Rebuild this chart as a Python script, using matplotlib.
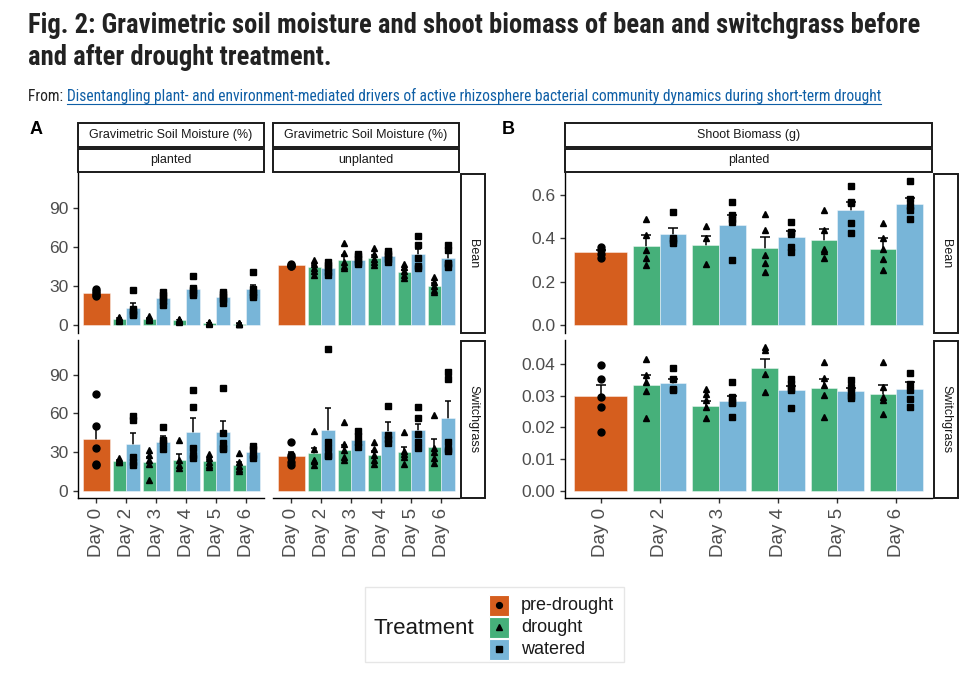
import matplotlib
matplotlib.use("Agg")
import matplotlib.pyplot as plt
from matplotlib import font_manager
from matplotlib.patches import Rectangle
from matplotlib.lines import Line2D
import numpy as np

# ---------------- data ----------------
days = ["Day 0", "Day 2", "Day 3", "Day 4", "Day 5", "Day 6"]
treatments = ["pre-drought", "drought", "watered"]
# order of groups: pre(Day0), D2 drought, D2 watered, D3 drought, D3 watered, ... D6 watered

# A: gravimetric soil moisture (%) - planted, bean
gsm_planted_bean_mean = [24.6, 4.7, 13.5, 5.2, 20.7, 3.9, 28.3, 1.8, 21.8, 1.3, 27.7]
gsm_planted_bean_se = [1.3, 0.7, 3.4, 0.6, 2.3, 0.5, 2.2, 0.3, 2.2, 0.2, 3.4]
gsm_planted_bean_pts = [[28, 26.5, 25, 23.5, 22.5], [6.5, 5.5, 4.5, 4, 3.5], [27, 13, 11, 9, 8],
                        [7, 6, 5, 4.5, 4], [25.5, 23.5, 21, 18.5, 16], [5, 4.5, 4, 3.5, 3],
                        [38, 29, 27, 25, 23], [2.5, 2, 1.8, 1.5, 1.2], [25.5, 24, 22, 20, 17],
                        [2, 1.5, 1.2, 1, 0.9], [41, 28, 26, 23, 22]]
# A: unplanted, bean
gsm_unplanted_bean_mean = [46.2, 44.6, 43.8, 50.6, 50.6, 51.9, 53.2, 40.7, 54.5, 30.6, 51.9]
gsm_unplanted_bean_se = [0.6, 2.0, 2.2, 3.5, 1.8, 2.3, 1.5, 2.0, 4.5, 2.0, 3.5]
gsm_unplanted_bean_pts = [[47, 46.5, 46, 45.5], [50.5, 47, 44, 41.5, 38.5], [49, 46.5, 44, 41, 38.5],
                          [63.5, 55.5, 48.5, 46, 44], [55, 53, 51, 49, 47], [59.5, 54.5, 51, 48.5, 46.5],
                          [57.5, 55, 53, 51, 49], [47, 44.5, 42, 39, 36.5], [68.5, 62, 52, 46, 44],
                          [37.5, 33, 30, 27.5, 26], [62, 58, 48, 47, 45]]
# A: planted, switchgrass
gsm_planted_switch_mean = [39.9, 23.1, 36.0, 21.9, 38.0, 23.4, 45.8, 22.6, 45.3, 20.0, 29.6]
gsm_planted_switch_se = [10.5, 0.8, 8.5, 4.0, 4.0, 5.2, 10.8, 1.8, 9.0, 2.5, 2.5]
gsm_planted_switch_pts = [[75, 50, 33, 20, 21], [25, 24, 23, 22.5, 22], [58, 55, 26, 22, 20],
                          [31.5, 28, 24, 21, 8.5], [49.5, 39, 37, 32], [39, 24, 20, 17.5],
                          [78, 65, 33, 28, 25], [28.5, 25, 22, 20, 18], [79.5, 45, 37, 33, 32],
                          [29, 22.5, 19, 16.5, 15], [35, 32, 28, 25]]
# A: unplanted, switchgrass
gsm_unplanted_switch_mean = [26.5, 29.0, 47.0, 31.6, 39.0, 27.8, 46.5, 30.3, 47.0, 33.7, 56.0]
gsm_unplanted_switch_se = [3.5, 4.0, 16.8, 4.0, 2.5, 3.0, 7.0, 3.5, 5.0, 6.3, 13.4]
gsm_unplanted_switch_pts = [[37.5, 28, 26, 22, 20], [46, 32, 24, 23, 20], [110, 38, 33, 28, 26.5],
                            [53.5, 36.5, 31.5, 26, 24], [46, 42, 38, 34], [38, 32, 28, 24, 21],
                            [66, 43.5, 40, 37], [45.5, 31, 28.5, 26, 21], [65, 56, 44, 38, 33],
                            [58.5, 33, 30, 25, 21.5], [92, 87, 38, 32, 31]]
# B: shoot biomass (g), bean
bio_bean_mean = [0.335, 0.363, 0.420, 0.369, 0.4615, 0.357, 0.408, 0.394, 0.531, 0.352, 0.557]
bio_bean_se = [0.011, 0.050, 0.026, 0.043, 0.045, 0.051, 0.025, 0.047, 0.035, 0.048, 0.028]
bio_bean_pts = [[0.358, 0.346, 0.33, 0.308], [0.49, 0.415, 0.345, 0.31, 0.277], [0.52, 0.40, 0.39, 0.377],
                [0.457, 0.40, 0.28], [0.565, 0.507, 0.49, 0.475, 0.30], [0.51, 0.44, 0.323, 0.285, 0.246],
                [0.474, 0.43, 0.42, 0.36, 0.338], [0.528, 0.44, 0.35, 0.34, 0.31], [0.64, 0.566, 0.56, 0.47, 0.426],
                [0.47, 0.40, 0.35, 0.303, 0.254], [0.665, 0.58, 0.55, 0.531, 0.49]]
# B: shoot biomass (g), switchgrass
bio_switch_mean = [0.0298, 0.0332, 0.0340, 0.0266, 0.0283, 0.0386, 0.0316, 0.0324, 0.0314, 0.0306, 0.0320]
bio_switch_se = [0.0036, 0.0033, 0.0013, 0.0018, 0.0017, 0.0028, 0.0015, 0.0028, 0.0010, 0.0028, 0.0022]
bio_switch_pts = [[0.0395, 0.0353, 0.0296, 0.0264, 0.0186], [0.0416, 0.0366, 0.0343, 0.0313, 0.0228],
                  [0.0386, 0.0353, 0.0322, 0.0316], [0.032, 0.0305, 0.0286, 0.0264, 0.023],
                  [0.0343, 0.0296, 0.028, 0.0275, 0.0233], [0.0452, 0.0442, 0.0369, 0.0311],
                  [0.0353, 0.0337, 0.0325, 0.0316, 0.0261], [0.0405, 0.0355, 0.0332, 0.0301, 0.0231],
                  [0.0348, 0.0328, 0.0312, 0.0300, 0.0292], [0.0405, 0.0327, 0.0296, 0.0285, 0.0243],
                  [0.0372, 0.0335, 0.0316, 0.029, 0.0264]]

# ---------------- style ----------------
W, H = 971, 674
colors = {"pre-drought": "#D55E1E", "drought": "#46B07A", "watered": "#78B5D8"}
markers = {"pre-drought": "o", "drought": "^", "watered": "s"}

names = {f.name for f in font_manager.fontManager.ttflist}
SANS = "Liberation Sans" if "Liberation Sans" in names else "DejaVu Sans"
TITLE_FONT = SANS
for cand in ["Liberation Sans Narrow", "Roboto Condensed", "Open Sans Condensed",
             "DejaVu Sans Condensed", "Noto Sans Condensed", "Lato"]:
    if cand in names:
        TITLE_FONT = cand
        break
plt.rcParams["font.family"] = [SANS, "DejaVu Sans"]

fig = plt.figure(figsize=(W / 100, H / 100), dpi=100)
fig.patch.set_facecolor("white")


def fx(x):
    return x / W


def fy(y):
    return 1 - y / H


def add_ax(x0, y0, x1, y1):
    return fig.add_axes([fx(x0), fy(y1), fx(x1) - fx(x0), fy(y0) - fy(y1)])


def groups():
    """yield (x position, treatment, width) for the 11 groups"""
    out = [(1, "pre-drought", 0.9)]
    for i in range(1, len(days)):
        out.append((i + 1 - 0.225, "drought", 0.45))
        out.append((i + 1 + 0.225, "watered", 0.45))
    return out


def draw_panel(ax, means, ses, pts, ylim, yticks, fmt, left_axis, bottom_axis, cap):
    for (x, tr, w), m, s, p in zip(groups(), means, ses, pts):
        ax.errorbar([x], [m], yerr=[[s], [s]], fmt="none", ecolor="black", elinewidth=1.1,
                    capsize=cap, capthick=1.1, zorder=1)
        ax.bar(x, m, width=w, color=colors[tr], edgecolor=(1, 1, 1, 0.5), linewidth=0.6, zorder=2)
        ax.plot([x] * len(p), p, linestyle="none", marker=markers[tr], color="black",
                markersize=5.0, zorder=3)
    ax.set_xlim(0.4, len(days) + 0.6)
    ax.set_ylim(*ylim)
    for sp in ["top", "right"]:
        ax.spines[sp].set_visible(False)
    ax.spines["left"].set_visible(left_axis)
    ax.spines["bottom"].set_visible(bottom_axis)
    for sp in ["left", "bottom"]:
        ax.spines[sp].set_linewidth(1.0)
        ax.spines[sp].set_color("black")
    ax.set_facecolor("white")
    ax.tick_params(colors="#333333", labelcolor="#4D4D4D", length=3.5, width=1.0)
    if left_axis:
        ax.set_yticks(yticks)
        ax.set_yticklabels([fmt.format(t) for t in yticks], fontsize=12.5)
    else:
        ax.set_yticks([])
    if bottom_axis:
        ax.set_xticks(range(1, len(days) + 1))
        ax.set_xticklabels(days, rotation=90, fontsize=13.5)
    else:
        ax.set_xticks([])


def strip(x0, y0, x1, y1, text, size=9.0, rot=0):
    fig.add_artist(Rectangle((fx(x0), fy(y1)), fx(x1) - fx(x0), fy(y0) - fy(y1),
                             transform=fig.transFigure, facecolor="white",
                             edgecolor="#1A1A1A", linewidth=1.4))
    fig.text(fx((x0 + x1) / 2), fy((y0 + y1) / 2), text, ha="center", va="center",
             fontsize=size, color="#1A1A1A", rotation=rot)


# rows
ROW1 = (173, 333)
ROW2 = (340, 498)
A_L = (78, 264)
A_R = (273, 459)
B_X = (565, 932)

ylimA = (-5.8, 117)
ticksA = [0, 30, 60, 90]

ax = add_ax(A_L[0], ROW1[0], A_L[1], ROW1[1])
draw_panel(ax, gsm_planted_bean_mean, gsm_planted_bean_se, gsm_planted_bean_pts, ylimA, ticksA, "{:.0f}", True, False, 2.5)
ax = add_ax(A_R[0], ROW1[0], A_R[1], ROW1[1])
draw_panel(ax, gsm_unplanted_bean_mean, gsm_unplanted_bean_se, gsm_unplanted_bean_pts, ylimA, ticksA, "{:.0f}", False, False, 2.5)
ax = add_ax(A_L[0], ROW2[0], A_L[1], ROW2[1])
draw_panel(ax, gsm_planted_switch_mean, gsm_planted_switch_se, gsm_planted_switch_pts, ylimA, ticksA, "{:.0f}", True, True, 2.5)
ax = add_ax(A_R[0], ROW2[0], A_R[1], ROW2[1])
draw_panel(ax, gsm_unplanted_switch_mean, gsm_unplanted_switch_se, gsm_unplanted_switch_pts, ylimA, ticksA, "{:.0f}", False, True, 2.5)

ax = add_ax(B_X[0], ROW1[0], B_X[1], ROW1[1])
draw_panel(ax, bio_bean_mean, bio_bean_se, bio_bean_pts, (-0.035, 0.70), [0.0, 0.2, 0.4, 0.6], "{:.1f}", True, False, 3.5)
ax = add_ax(B_X[0], ROW2[0], B_X[1], ROW2[1])
draw_panel(ax, bio_switch_mean, bio_switch_se, bio_switch_pts, (-0.0023, 0.0475),
           [0.0, 0.01, 0.02, 0.03, 0.04], "{:.2f}", True, True, 3.5)

# strips
strip(A_L[0], 123, A_L[1], 147, "Gravimetric Soil Moisture (%)")
strip(A_L[0], 149, A_L[1], 172, "planted")
strip(A_R[0], 123, A_R[1], 147, "Gravimetric Soil Moisture (%)")
strip(A_R[0], 149, A_R[1], 172, "unplanted")
strip(461, ROW1[0] + 1, 485, ROW1[1], "Bean", rot=-90)
strip(461, ROW2[0] + 1, 485, ROW2[1], "Switchgrass", rot=-90)
strip(B_X[0], 123, B_X[1], 147, "Shoot Biomass (g)")
strip(B_X[0], 149, B_X[1], 172, "planted")
strip(934, ROW1[0] + 1, 958, ROW1[1], "Bean", rot=-90)
strip(934, ROW2[0] + 1, 958, ROW2[1], "Switchgrass", rot=-90)

# panel letters
fig.text(fx(30), fy(130), "A", fontsize=13, fontweight="bold", va="center", ha="left")
fig.text(fx(502), fy(130), "B", fontsize=13, fontweight="bold", va="center", ha="left")

# legend
fig.add_artist(Rectangle((fx(365), fy(662)), fx(624) - fx(365), fy(587) - fy(662),
                         transform=fig.transFigure, facecolor="none", edgecolor="#E6E6E6", linewidth=1))
fig.text(fx(373), fy(628), "Treatment", fontsize=16, va="center", ha="left", color="#1A1A1A")
for i, tr in enumerate(treatments):
    yc = 605 + i * 22
    fig.add_artist(Rectangle((fx(489), fy(yc + 10.5)), fx(509) - fx(489), fy(yc - 10.5) - fy(yc + 10.5),
                             transform=fig.transFigure, facecolor=colors[tr], edgecolor="white", linewidth=0.8))
    fig.add_artist(Line2D([fx(499)], [fy(yc)], transform=fig.transFigure, marker=markers[tr],
                          color="black", markersize=4.2, linestyle="none"))
    fig.text(fx(521), fy(yc), tr, fontsize=13, va="center", ha="left", color="#1A1A1A")

# title
title1 = "Fig. 2: Gravimetric soil moisture and shoot biomass of bean and switchgrass before"
title2 = "and after drought treatment."
t1 = fig.text(fx(28), fy(33), title1, fontsize=17.5, fontweight="bold", family=[TITLE_FONT, "DejaVu Sans"],
              ha="left", va="baseline", color="#222222")
renderer = fig.canvas.get_renderer()
wpx = t1.get_window_extent(renderer).width
tsize = 17.5 * min(1.25, 892 / wpx)
t1.set_fontsize(tsize)
fig.text(fx(28), fy(65), title2, fontsize=tsize, fontweight="bold", family=[TITLE_FONT, "DejaVu Sans"],
         ha="left", va="baseline", color="#222222")

f1 = fig.text(fx(28), fy(101), "From: ", fontsize=9.5, family=[TITLE_FONT, "DejaVu Sans"],
              ha="left", va="baseline", color="#222222")
bb = f1.get_window_extent(renderer)
link = "Disentangling plant- and environment-mediated drivers of active rhizosphere bacterial community dynamics during short-term drought"
lt = fig.text(bb.x1 / W, fy(101), link, fontsize=9.5, family=[TITLE_FONT, "DejaVu Sans"],
              ha="left", va="baseline", color="#0F5FA6")
lb = lt.get_window_extent(renderer)
s = 9.5 * min(1.3, (887 - 28) / (lb.x1 - 28))
f1.set_fontsize(s)
bb = f1.get_window_extent(renderer)
lt.set_fontsize(s)
lt.set_x(bb.x1 / W)
lb = lt.get_window_extent(renderer)
fig.add_artist(Line2D([lb.x0 / W, lb.x1 / W], [fy(103.5), fy(103.5)], transform=fig.transFigure,
                      color="#0F5FA6", linewidth=0.8))

fig.savefig("out.png", dpi=100, facecolor="white")
